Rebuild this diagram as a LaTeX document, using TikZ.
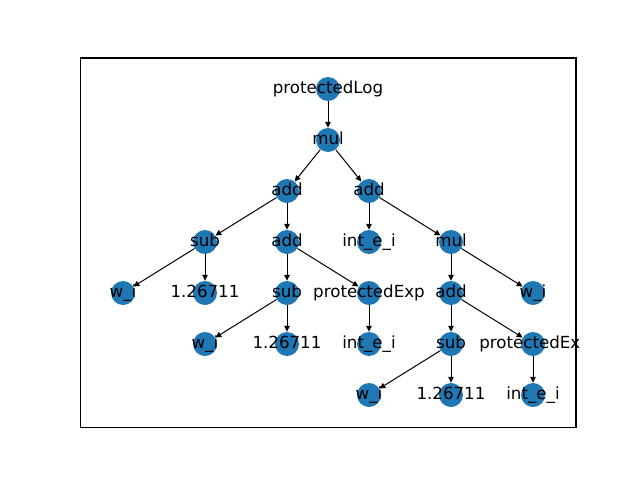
\documentclass[tikz,border=0pt]{standalone}
\usepackage{fontspec}
\setmainfont{DejaVu Sans}
\usetikzlibrary{arrows.meta}
\definecolor{mplblue}{HTML}{1F77B4}
\tikzset{
  vert/.style={circle, fill=mplblue, minimum size=17.28pt, inner sep=0pt},
  lbl/.style={inner sep=0pt, font=\fontsize{12}{14}\selectfont, text=black, text height=9.1pt, text depth=2.5pt},
  edge/.style={-{Triangle[length=4.2pt,width=4pt]}, line width=0.72pt, black, shorten >=0pt, shorten <=0pt}
}
\begin{document}
\begin{tikzpicture}[x=0.72pt,y=-0.72pt]
\useasboundingbox (0,0) rectangle (640,480);
% nodes (circles)
\node[vert] (n1) at (328,89) {};
\node[vert] (n2) at (328,140) {};
\node[vert] (n3) at (287,191) {};
\node[vert] (n4) at (369,191) {};
\node[vert] (n5) at (205,242) {};
\node[vert] (n6) at (287,242) {};
\node[vert] (n7) at (369,242) {};
\node[vert] (n8) at (451,242) {};
\node[vert] (n9) at (123,293) {};
\node[vert] (n10) at (205,293) {};
\node[vert] (n11) at (287,293) {};
\node[vert] (n12) at (369,293) {};
\node[vert] (n13) at (451,293) {};
\node[vert] (n14) at (533,293) {};
\node[vert] (n15) at (205,344) {};
\node[vert] (n16) at (287,344) {};
\node[vert] (n17) at (369,344) {};
\node[vert] (n18) at (451,344) {};
\node[vert] (n19) at (533,344) {};
\node[vert] (n20) at (369,395) {};
\node[vert] (n21) at (451,395) {};
\node[vert] (n22) at (533,395) {};
% edges
\foreach \a/\b in {n1/n2, n2/n3, n2/n4, n3/n5, n3/n6, n4/n7, n4/n8, n5/n9, n5/n10, n6/n11, n6/n12, n8/n13, n8/n14, n11/n15, n11/n16, n12/n17, n13/n18, n13/n19, n18/n20, n18/n21, n19/n22}
  \draw[edge] (\a) -- (\b);
% labels
\node[lbl] (l1) at (n1) {protectedLog};
\node[lbl] (l2) at (n2) {mul};
\node[lbl] (l3) at (n3) {add};
\node[lbl] (l4) at (n4) {add};
\node[lbl] (l5) at (n5) {sub};
\node[lbl] (l6) at (n6) {add};
\node[lbl] (l7) at (n7) {int\_e\_i};
\node[lbl] (l8) at (n8) {mul};
\node[lbl] (l9) at (n9) {w\_i};
\node[lbl] (l10) at (n10) {1.26711};
\node[lbl] (l11) at (n11) {sub};
\node[lbl] (l12) at (n12) {protectedExp};
\node[lbl] (l13) at (n13) {add};
\node[lbl] (l14) at (n14) {w\_i};
\node[lbl] (l15) at (n15) {w\_i};
\node[lbl] (l16) at (n16) {1.26711};
\node[lbl] (l17) at (n17) {int\_e\_i};
\node[lbl] (l18) at (n18) {sub};
\node[lbl, anchor=west] (l19) at ([xshift=-54*0.72pt]n19) {protectedEx};
\node[lbl] (l20) at (n20) {w\_i};
\node[lbl] (l21) at (n21) {1.26711};
\node[lbl] (l22) at (n22) {int\_e\_i};
% axes frame
\draw[line width=0.8pt, black] (80.5,58) rectangle (576,427.5);
\end{tikzpicture}
\end{document}
